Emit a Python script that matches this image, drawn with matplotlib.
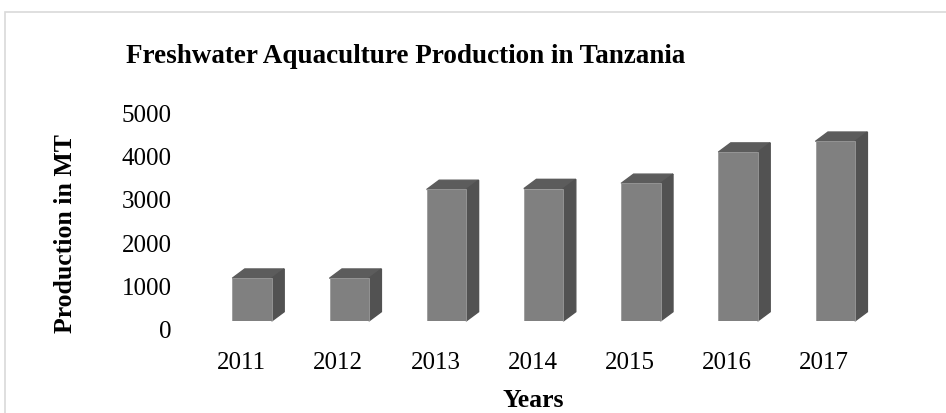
import matplotlib.pyplot as plt
import matplotlib.transforms as mtransforms
from matplotlib.patches import Rectangle
import numpy as np

plt.rcParams['font.family'] = ['Liberation Serif', 'DejaVu Serif']

years = ['2011', '2012', '2013', '2014', '2015', '2016', '2017']
production = [985, 985, 3030, 3050, 3170, 3890, 4140]
yticks = [0, 1000, 2000, 3000, 4000, 5000]

W, H = 946, 414
fig = plt.figure(figsize=(W / 100, H / 100), dpi=100)

# axes placed in pixel terms: value 0 at y=322, 5000 at y=105
left_px, right_px = 180, 900
ax = fig.add_axes([left_px / W, (H - 322) / H, (right_px - left_px) / W, 217 / H])
step = 97.2
x0_px = 241
ax.set_xlim((left_px - x0_px) / step, (right_px - x0_px) / step)
ax.set_ylim(0, 5000)

# 3d-ish bars: front face + top + side
front_c = '#808080'
top_c = '#5c5c5c'
side_c = '#525252'
bw = 39.4 / step
off = (232.3 - x0_px) / step
dx = 12.5 / step
dy = 214

x = np.arange(len(years))
ax.bar(x + off, production, width=bw, align='edge', color=front_c,
       edgecolor='#9a9a9a', linewidth=0.6, zorder=3)
for xi, h in zip(x + off, production):
    ax.fill([xi, xi + bw, xi + bw + dx, xi + dx], [h, h, h + dy, h + dy],
            color=top_c, zorder=2, clip_on=False)
    ax.fill([xi + bw, xi + bw + dx, xi + bw + dx, xi + bw], [0, dy, h + dy, h],
            color=side_c, zorder=2, clip_on=False)

for s in ax.spines.values():
    s.set_visible(False)
ax.set_xticks(x)
ax.set_xticklabels(years, fontsize=18)
ax.set_yticks(yticks)
ax.set_yticklabels([str(v) for v in yticks], fontsize=18)
ax.tick_params(axis='both', length=0)
ax.tick_params(axis='x', pad=21.5)
ax.tick_params(axis='y', pad=6)

shift = mtransforms.ScaledTranslation(0, -8 / 100, fig.dpi_scale_trans)
for t in ax.yaxis.get_major_ticks():
    t.label1.set_transform(t.label1.get_transform() + shift)

fig.text(126 / W, 1 - 57 / H, 'Freshwater Aquaculture Production in Tanzania',
         fontsize=19.5, fontweight='bold', ha='left', va='center')
fig.text(65 / W, 1 - 234 / H, 'Production in MT', fontsize=18.5,
         fontweight='bold', rotation=90, ha='center', va='center')
fig.text(533 / W, 1 - 401 / H, 'Years', fontsize=18.5, fontweight='bold',
         ha='center', va='center')

# outer chart border
fig.patches.append(Rectangle((5 / W, -0.05), 1.0, 1 - 12.5 / H + 0.05,
                             transform=fig.transFigure, fill=False,
                             edgecolor='#d9d9d9', linewidth=1.2))

fig.savefig('out.png', dpi=100)
